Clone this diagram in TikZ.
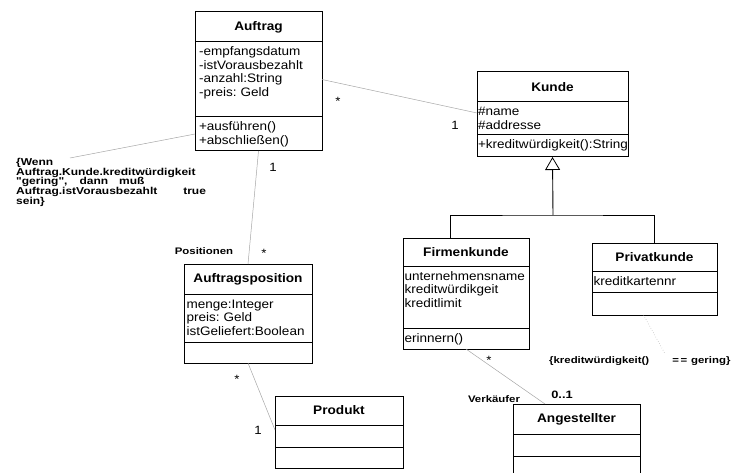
\documentclass[tikz,border=0pt]{standalone}
\usepackage{fontspec}
\setmainfont{Liberation Sans}
\newfontfamily\umlfont[FakeStretch=1.1]{Liberation Sans}
\newfontfamily\notefont[FakeStretch=1.2]{Liberation Sans}
\usetikzlibrary{positioning, arrows.meta, calc}

\begin{document}
\begin{tikzpicture}[
    x=1pt, y=-1pt,
    ttl/.style={draw, line width=1pt, inner sep=0pt, outer sep=0pt, font=\umlfont\bfseries\fontsize{12.4}{14}\selectfont},
    cmp/.style={draw, line width=1pt, outer sep=0pt, inner xsep=2pt, inner ysep=1.5pt, align=left, text height=12.5pt, font=\umlfont\fontsize{12.3}{13.5}\selectfont},
    assoc/.style={black!35, line width=0.5pt},
    inh/.style={line width=0.9pt},
    lbl/.style={inner sep=0pt, font=\notefont\bfseries\fontsize{9.5}{9.75}\selectfont},
    mult/.style={inner sep=0pt, font=\umlfont\fontsize{12}{12}\selectfont}
]
\useasboundingbox (0,0) rectangle (744,473);

% classes
\node[ttl, minimum width=127pt, minimum height=30pt, anchor=north west] (auftrag) at (195,12) {Auftrag};
\node[cmp, below=0pt of auftrag, inner xsep=4pt, text width=119pt, text depth=59.5pt] (auftrag-a) {-empfangsdatum\\-istVorausbezahlt\\-anzahl:String\\-preis:\ Geld};
\node[cmp, below=0pt of auftrag-a, inner xsep=4pt, text width=119pt, text depth=18.5pt] (auftrag-o) {+ausführen()\\+abschließen()};

\node[ttl, minimum width=151pt, minimum height=30pt, anchor=north west] (kunde) at (477,72) {Kunde};
\node[cmp, below=0pt of kunde, inner xsep=1pt, text width=149pt, text depth=17.5pt] (kunde-a) {\#name\\\#addresse};
\node[cmp, below=0pt of kunde-a, inner xsep=1pt, text width=149pt, text depth=6.5pt] (kunde-o) {+kreditwürdigkeit():String};

\node[ttl, minimum width=126pt, minimum height=28pt, anchor=north west] (firmenkunde) at (403,238) {Firmenkunde};
\node[cmp, below=0pt of firmenkunde, inner xsep=1.5pt, text width=123pt, text depth=46.5pt] (firmenkunde-a) {unternehmensname\\kreditwürdikgeit\\kreditlimit};
\node[cmp, below=0pt of firmenkunde-a, inner xsep=1.5pt, text width=123pt, text depth=5.5pt] (firmenkunde-o) {erinnern()};

\node[ttl, minimum width=125pt, minimum height=28pt, anchor=north west] (privatkunde) at (592,243) {Privatkunde};
\node[cmp, below=0pt of privatkunde, inner xsep=1.5pt, text width=122pt, text depth=5.5pt] (privatkunde-a) {kreditkartennr};
\node[cmp, below=0pt of privatkunde-a, inner xsep=1.5pt, text width=122pt, text depth=7.5pt] (privatkunde-o) {};

\node[ttl, minimum width=128pt, minimum height=30pt, anchor=north west] (auftragsposition) at (184,264) {Auftragsposition};
\node[cmp, below=0pt of auftragsposition, inner xsep=2.5pt, text width=123pt, text depth=32.5pt] (auftragsposition-a) {menge:Integer\\preis:\ Geld\\istGeliefert:Boolean};
\node[cmp, below=0pt of auftragsposition-a, inner xsep=2.5pt, text width=123pt, text depth=5.5pt] (auftragsposition-o) {};

\node[ttl, minimum width=128pt, minimum height=29pt, anchor=north west] (produkt) at (275,396) {Produkt};
\node[cmp, below=0pt of produkt, text width=124pt, text depth=6.5pt] (produkt-a) {};
\node[cmp, below=0pt of produkt-a, text width=124pt, text depth=5.5pt] (produkt-o) {};

\node[ttl, minimum width=127pt, minimum height=30pt, anchor=north west] (angestellter) at (513,404) {Angestellter};
\node[cmp, below=0pt of angestellter, text width=123pt, text depth=6.5pt] (angestellter-a) {};
\node[cmp, below=0pt of angestellter-a, text width=123pt, text depth=4.5pt] (angestellter-o) {};

% constraints
\node[lbl, anchor=north west, align=left, font=\notefont\bfseries\fontsize{10}{9.75}\selectfont] (note) at (16,158)
    {\{Wenn\\Auftrag.Kunde.kreditwürdigkeit\\"gering",\hspace{12pt}dann\hspace{11pt}muß\\Auftrag.istVorausbezahlt\hspace{26pt}true\\sein\}};
\node[lbl, anchor=west] (constr) at (549,361) {\{kreditwürdigkeit()\hspace{23pt}=\,=\hspace{4pt}gering\}};

% multiplicities and roles
\node[mult] (m-ak) at (338,101) {*};
\node[mult] (m-ka) at (455,125) {1};
\node[mult] (m-ap) at (273,167) {1};
\node[mult] (m-pa) at (264,253) {*};
\node[lbl] (positionen) at (204,251) {Positionen};
\node[mult] (m-pp) at (237,379) {*};
\node[mult] (m-pr) at (258,430) {1};
\node[mult] (m-fa) at (489,360) {*};
\node[lbl] (verkaeufer) at (494,399) {Verkäufer};
\node[lbl, font=\notefont\bfseries\fontsize{10.7}{11}\selectfont] (m-af) at (562,395) {0..1};

% connectors
\draw[assoc] (auftrag-a.east) -- ([yshift=5.5pt]kunde-a.west);
\draw[assoc] (auftrag-o.west) -- ([xshift=54pt]note.north west);
\draw[assoc] (auftrag-o.south) -- (auftragsposition.north);
\draw[assoc] (auftragsposition-o.south) -- ([yshift=6pt]produkt-a.west);
\draw[assoc] (firmenkunde-o.south) -- ([xshift=-31.5pt]angestellter.north);
\draw[assoc, dotted] ([xshift=-11pt]privatkunde-o.south) -- ([xshift=25pt, yshift=3pt]constr.north);

\coordinate (gen) at (553,215);
\draw[inh, -{Triangle[open, length=13pt, width=15pt, line width=0.8pt]}] (gen) -- (kunde-o.south);
\draw[inh] ([xshift=-16pt]firmenkunde.north) |- (gen) -| (privatkunde.north);
\end{tikzpicture}
\end{document}
